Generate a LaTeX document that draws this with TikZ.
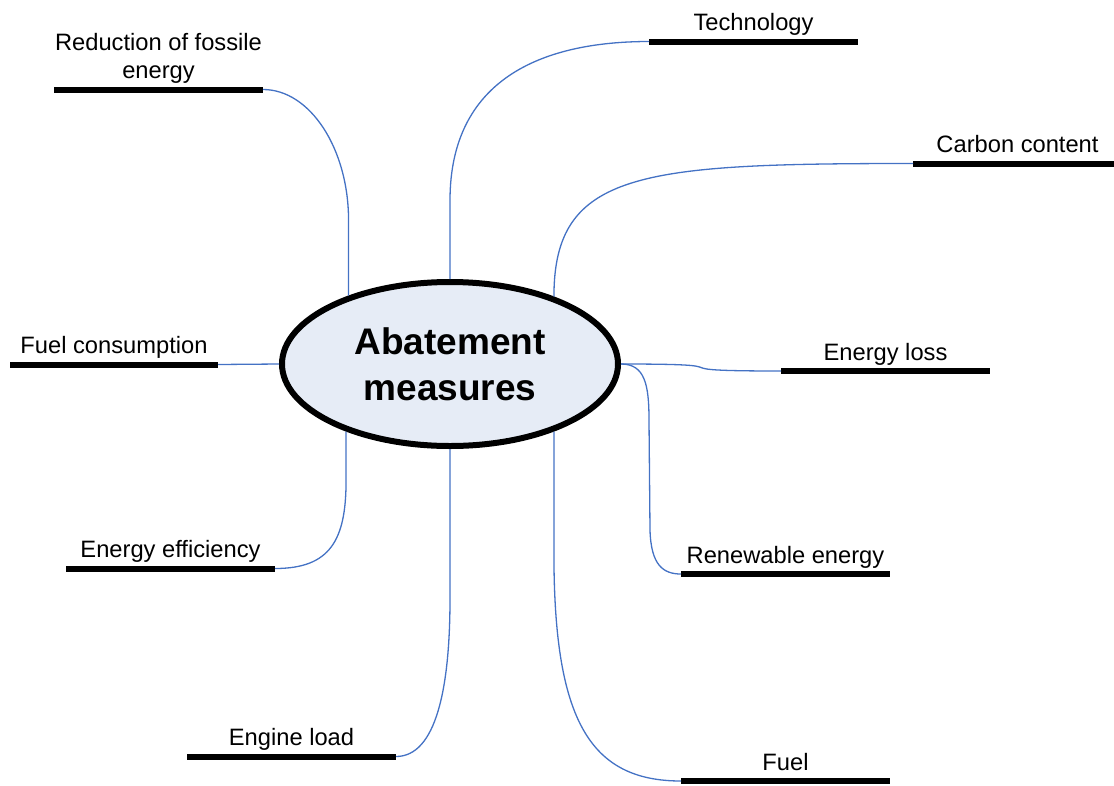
\documentclass[tikz,border=0pt]{standalone}
\usepackage{fontspec}
\setmainfont{Liberation Sans}
\usetikzlibrary{shapes.geometric,calc}
\definecolor{linkblue}{RGB}{68,114,196}
\definecolor{hubfill}{RGB}{230,236,246}

\begin{document}
\begin{tikzpicture}[x=1pt,y=-1pt,
  hub/.style={ellipse, draw=black, line width=6pt, fill=hubfill,
    minimum width=336pt, minimum height=164pt, inner sep=0pt, outer sep=3pt,
    font=\fontsize{37}{46}\selectfont\bfseries, align=center},
  bar/.style={line width=6pt, black},
  link/.style={draw=linkblue, line width=1.3pt},
  lbl/.style={font=\fontsize{23.7}{28}\selectfont, anchor=base, inner sep=0pt, align=center},
]
\useasboundingbox (0,0) rectangle (1114,785);

% central hub
\node[hub] (E) at (450,364) {Abatement\\measures};

% branch bars: left and right ends
\coordinate (redL)  at (54,89.5);   \coordinate (redR)  at (263,89.5);
\coordinate (techL) at (649,41.5);  \coordinate (techR) at (858,41.5);
\coordinate (carbL) at (913,163.5); \coordinate (carbR) at (1114,163.5);
\coordinate (fconL) at (10,364.5);  \coordinate (fconR) at (218,364.5);
\coordinate (elosL) at (781,371);   \coordinate (elosR) at (990,371);
\coordinate (eeffL) at (66,568.5);  \coordinate (eeffR) at (275,568.5);
\coordinate (renL)  at (681,574);   \coordinate (renR)  at (890,574);
\coordinate (engL)  at (187,756.5); \coordinate (engR)  at (396,756.5);
\coordinate (fuelL) at (681,781);   \coordinate (fuelR) at (890,781);

\foreach \b in {red,tech,carb,fcon,elos,eeff,ren,eng,fuel}
  \draw[bar] (\b L) -- (\b R);

% labels above the bars
\node[lbl] (redT)  at ($(redL)!0.5!(redR)+(0,-11)$)   {Reduction of fossile\\energy};
\node[lbl] (techT) at ($(techL)!0.5!(techR)+(0,-11)$) {Technology};
\node[lbl] (carbT) at ($(carbL)!0.5!(carbR)+(4,-11)$) {Carbon content};
\node[lbl] (fconT) at ($(fconL)!0.5!(fconR)+(0,-11)$) {Fuel consumption};
\node[lbl] (elosT) at ($(elosL)!0.5!(elosR)+(0,-11)$) {Energy loss};
\node[lbl] (eeffT) at ($(eeffL)!0.5!(eeffR)+(0,-11)$) {Energy efficiency};
\node[lbl] (renT)  at ($(renL)!0.5!(renR)+(0,-11)$)   {Renewable energy};
\node[lbl] (engT)  at ($(engL)!0.5!(engR)+(0,-11)$)   {Engine load};
\node[lbl] (fuelT) at ($(fuelL)!0.5!(fuelR)+(0,-11)$) {Fuel};

% connectors from the hub to each bar
\draw[link] (redR) .. controls +(47,0) and +(0,-72) .. ($(E.146 |- redR)+(0,131)$) -- (E.146);
\draw[link] (E.north) -- ($(E.north |- techL)+(0,159)$) .. controls +(0,-120) and +(-109,0) .. (techL);
\draw[link] (E.33) .. controls +(0,-125) and +(-273,0) .. (carbL);
\draw[link] (E.west) -- (fconR);
\draw[link] (E.east) .. controls +(141,0) and +(-141,0) .. (elosL);
\draw[link] (E.east) .. controls +(24,0) and +(0,-35) .. ++(28,56) -- ++(1,110) .. controls +(1,35) and +(-18,0) .. (renL);
\draw[link] (E.213) -- ($(E.213 |- eeffR)+(0,-88)$) .. controls +(0,60) and +(55,0) .. (eeffR);
\draw[link] (E.south) -- ($(E.south |- engR)+(0,-158)$) .. controls +(0,90) and +(40,0) .. (engR);
\draw[link] (E.327) -- ($(E.327 |- fuelL)+(0,-221)$) .. controls +(1,160) and +(-91,0) .. (fuelL);
\end{tikzpicture}
\end{document}
